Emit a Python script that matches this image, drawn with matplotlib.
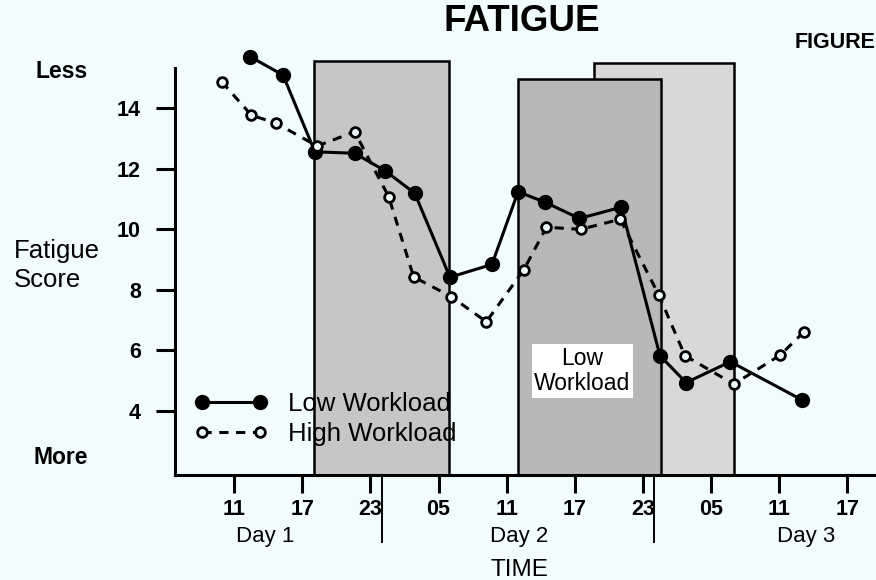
import matplotlib
matplotlib.use("Agg")
import matplotlib.pyplot as plt
from matplotlib.patches import Rectangle

plt.rcParams['font.family'] = ['Liberation Sans', 'DejaVu Sans']

# hours counted from midnight starting Day 1
low_hours = [12.4, 15.3, 18.1, 21.6, 24.3, 26.9, 30.0, 33.7, 36.0, 38.4, 41.4, 45.1, 48.5, 50.8, 54.7, 61.0]
low_score = [15.70, 15.09, 12.56, 12.51, 11.93, 11.19, 8.42, 8.84, 11.24, 10.89, 10.36, 10.73, 5.83, 4.94, 5.63, 4.37]

high_hours = [9.9, 12.5, 14.7, 18.3, 21.6, 24.6, 26.8, 30.1, 33.2, 36.5, 38.5, 41.5, 45.0, 48.4, 50.7, 55.0, 59.1, 61.2]
high_score = [14.87, 13.77, 13.50, 12.75, 13.22, 11.08, 8.43, 7.78, 6.95, 8.66, 10.07, 10.00, 10.33, 7.83, 5.83, 4.89, 5.85, 6.62]

# shaded periods (start hour, end hour, top score)
shade_start = [42.7, 18.0, 36.0]
shade_end = [55.0, 29.9, 48.6]
shade_top = [15.48, 15.56, 14.96]
shade_color = ['#d8d8d8', '#c6c6c6', '#b8b8b8']

tick_hours = [11, 17, 23, 29, 35, 41, 47, 53, 59, 65]
tick_labels = ['11', '17', '23', '05', '11', '17', '23', '05', '11', '17']
y_ticks = [4, 6, 8, 10, 12, 14]
day_breaks = [24, 48]
day_names = ['Day 1', 'Day 2', 'Day 3']
day_centers = [13.7, 36.1, 61.4]

bg = '#f1fdfd'
fig = plt.figure(figsize=(8.76, 5.8), dpi=100, facecolor=bg)
ax = fig.add_axes([175/876, 105/580, 701/876, 435/580], facecolor=bg)
ymin, ymax = 1.89, 16.25
ax.set_xlim(5.78, 67.53)
ax.set_ylim(ymin, ymax)

for x0, x1, top, c in zip(shade_start, shade_end, shade_top, shade_color):
    ax.add_patch(Rectangle((x0, ymin), x1 - x0, top - ymin, facecolor=c,
                           edgecolor='black', lw=1.8, zorder=1, clip_on=False))

ax.plot(low_hours, low_score, '-o', color='black', lw=2.2, ms=10,
        label='Low Workload', zorder=3, clip_on=False)
ax.plot(high_hours, high_score, 'o', ls=(0, (3, 2.5)), color='black', lw=2.2, ms=7,
        mfc=bg, mew=2, label='High Workload', zorder=3, clip_on=False)

ax.text(41.67, 5.32, 'Low\nWorkload', ha='center', va='center', fontsize=16.5,
        linespacing=1.1, zorder=2,
        bbox=dict(facecolor='white', edgecolor='none', pad=2))

for s in ['top', 'right']:
    ax.spines[s].set_visible(False)
ax.spines['left'].set_linewidth(2.2)
ax.spines['bottom'].set_linewidth(2.2)
ax.spines['left'].set_bounds(ymin, 15.32)

ax.set_yticks(y_ticks)
ax.set_yticklabels([str(v) for v in y_ticks], fontsize=15.5, fontweight='bold')
ax.set_xticks(tick_hours)
ax.set_xticklabels(tick_labels, fontsize=15.5, fontweight='bold')
ax.tick_params(axis='y', direction='out', length=13.5, width=2.2, pad=11)
ax.tick_params(axis='x', direction='out', length=13, width=2.2, pad=4.5)

for d in day_breaks:
    ax.axvline(d, ymin=-0.154, ymax=0, color='black', lw=1.4, clip_on=False)
xtr = ax.get_xaxis_transform()
for name, c in zip(day_names, day_centers):
    ax.text(c, -0.1425, name, transform=xtr, ha='center', va='center', fontsize=16)
ax.text(36.1, -0.218, 'TIME', transform=xtr, ha='center', va='center', fontsize=17.5)

fig.text(0.596, 0.9626, 'FATIGUE', ha='center', va='center', fontsize=26.5, fontweight='bold')
fig.text(795/876, 0.926, 'FIGURE', ha='left', va='center', fontsize=15.5, fontweight='bold')
fig.text(0.0704, 0.876, 'Less', ha='center', va='center', fontsize=16.5, fontweight='bold')
fig.text(0.0696, 0.212, 'More', ha='center', va='center', fontsize=16.5, fontweight='bold')
fig.text(14/876, 0.542, 'Fatigue\nScore', ha='left', va='center', fontsize=18.5, linespacing=1.3)

ax.legend(loc='center left', bbox_to_anchor=(0.028, 0.129), frameon=False,
          fontsize=18.5, handlelength=2.85, handletextpad=0.8, labelspacing=0.22,
          borderpad=0, borderaxespad=0, numpoints=2)

fig.savefig('out.png', dpi=100, facecolor=bg)
